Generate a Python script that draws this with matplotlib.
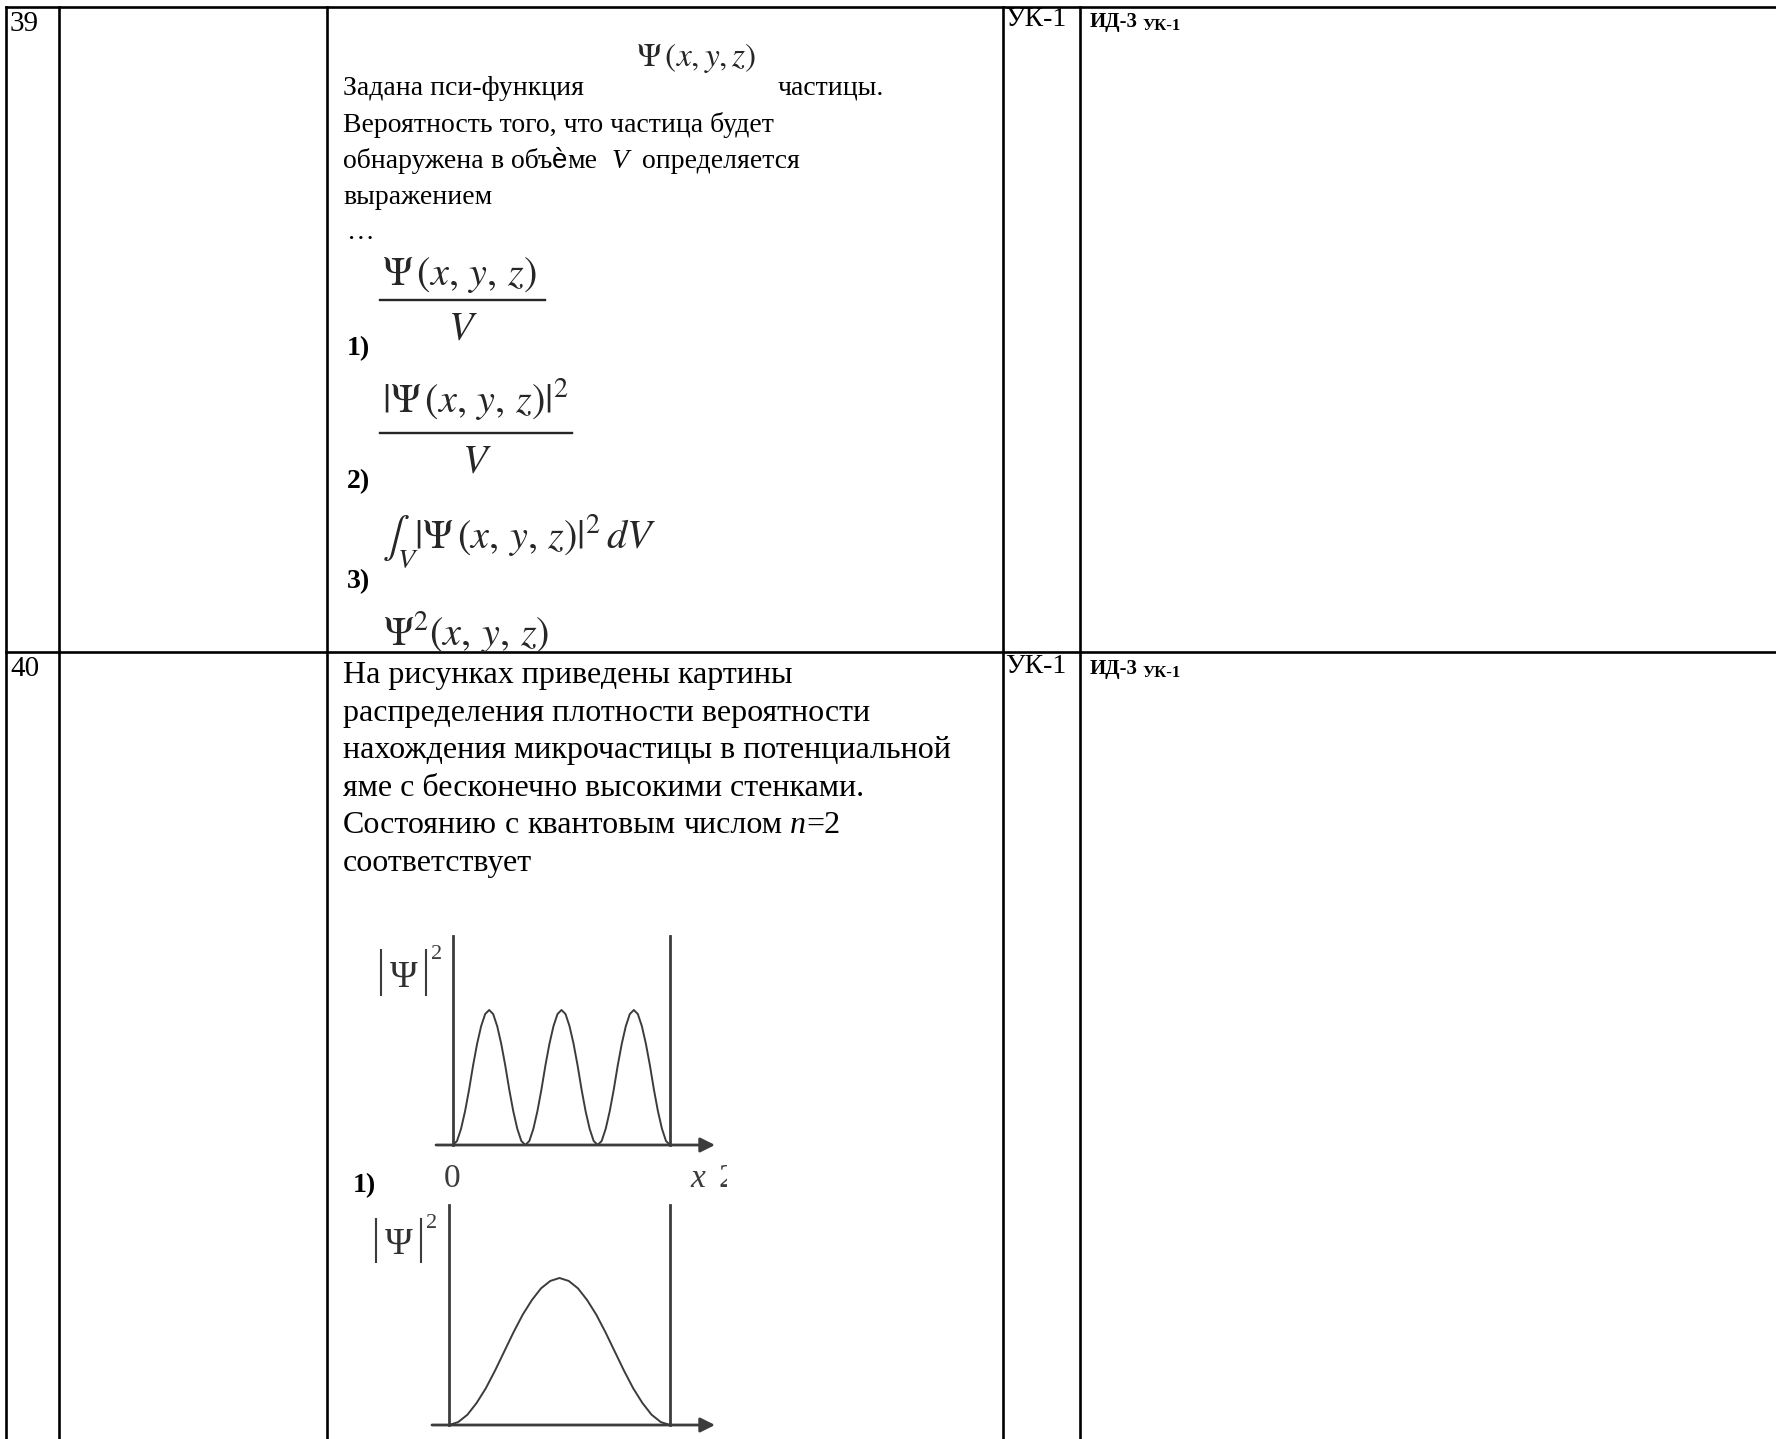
import numpy as np
import matplotlib.pyplot as plt
from matplotlib.patches import Rectangle

plt.rcParams['mathtext.fontset'] = 'stix'
plt.rcParams['font.family'] = ['Liberation Serif', 'DejaVu Serif']

W, H = 1776, 1439

# table grid (pixel positions on the page)
col_lines = [6, 59, 327, 1003, 1080]
row_lines = [7, 652]

row_numbers = ['39', '40']
number_base = [31, 676]
competence = ['УК-1', 'УК-1']
indicator = ['ИД-3', 'ИД-3']
indicator_sub = ['УК-1', 'УК-1']
code_base = [26, 673]

q39_lines = ['Вероятность того, что частица будет']
q40_lines = ['На рисунках приведены картины',
             'распределения плотности вероятности',
             'нахождения микрочастицы в потенциальной',
             'яме с бесконечно высокими стенками.']

psi_n3 = [0, .03, .12, .25, .41, .59, .75, .88, .97, 1, .97, .88, .75, .59, .41, .25, .12, .03,
          0, .03, .12, .25, .41, .59, .75, .88, .97, 1, .97, .88, .75, .59, .41, .25, .12, .03,
          0, .03, .12, .25, .41, .59, .75, .88, .97, 1, .97, .88, .75, .59, .41, .25, .12, .03, 0]
psi_n1 = [0, .02, .07, .15, .25, .37, .5, .63, .75, .85, .93, .98, 1,
          .98, .93, .85, .75, .63, .5, .37, .25, .15, .07, .02, 0]

Q39 = 20
Q40 = 23
FORM = 29
ink = '#262626'
gray = '#3c3c3c'
TX = 343

fig = plt.figure(figsize=(W / 100, H / 100), dpi=100)
page = fig.add_axes([0, 0, 1, 1])
page.set_xlim(0, W)
page.set_ylim(H, 0)
page.axis('off')
renderer = fig.canvas.get_renderer()

# grid lines
for x in col_lines:
    page.plot([x, x], [row_lines[0], H], color='black', lw=1.9)
for y in row_lines:
    page.plot([col_lines[0], W], [y, y], color='black', lw=1.9)

# numbers, competence and indicator columns
for i in range(2):
    page.text(10, number_base[i], row_numbers[i], fontsize=21, va='baseline')
    b = code_base[i]
    page.text(1005, b, competence[i], fontsize=20, va='baseline')
    t = page.text(1090, b + 1, indicator[i], fontsize=15,
                  fontweight='bold', va='baseline')
    w = t.get_window_extent(renderer).width
    page.text(1090 + w + 4, b + 4, indicator_sub[i], fontsize=12,
              fontweight='bold', va='baseline')


def run(x, y, parts, size):
    sp = 0.25 * size * 100 / 72
    for s, style in parts:
        if s == ' ':
            x += sp
            continue
        t = page.text(x, y, s, fontsize=size, va='baseline', **style)
        x += t.get_window_extent(renderer).width


# question 39
page.text(TX, 95, 'Задана пси-функция', fontsize=Q39, va='baseline')
page.text(636, 66, r'$\Psi\,(x,y,z)$', fontsize=24, color=ink, va='baseline')
page.text(778, 95, 'частицы.', fontsize=Q39, va='baseline')
page.text(TX, 132, q39_lines[0], fontsize=Q39, va='baseline')
run(TX, 168, [('обнаружена', {}), (' ', {}), ('в', {}), (' ', {}),
              ('объ', {}), ('ѐ', {'family': ['Liberation Sans', 'DejaVu Sans']}),
              ('ме', {}), (' ', {}), (' ', {}), ('V', {'style': 'italic'}),
              (' ', {}), (' ', {}), ('определяется', {})], Q39)
page.text(TX, 204, 'выражением', fontsize=Q39, va='baseline')
page.text(347, 239, '…', fontsize=Q39, va='baseline')

# answer options
opt = dict(fontsize=FORM, color=ink, va='baseline')
lab = dict(fontsize=20, fontweight='bold', va='baseline')
page.text(382, 285, r'$\Psi\,(x,\,y,\,z)$', **opt)
page.plot([380, 545], [300, 300], color=ink, lw=1.7)
page.text(448, 340, r'$V$', **opt)
page.text(347, 355, '1)', **lab)

page.text(382, 412, r'$|\Psi\,(x,\,y,\,z)|^2$', **opt)
page.plot([380, 572], [433, 433], color=ink, lw=1.7)
page.text(462, 473, r'$V$', **opt)
page.text(347, 488, '2)', **lab)

page.text(382, 548, r'$\int_V |\Psi\,(x,\,y,\,z)|^2\,dV$', **opt)
page.text(347, 588, '3)', **lab)

t4 = page.text(383, 645, r'$\Psi^2(x,\,y,\,z)$', clip_on=True, **opt)
t4.set_clip_path(Rectangle((330, 590), 400, 61, transform=page.transData))

# question 40
for k, line in enumerate(q40_lines):
    page.text(TX, 683 + k * 37.5, line, fontsize=Q40, va='baseline')
run(TX, 683 + 4 * 37.5, [('Состоянию', {}), (' ', {}), ('с', {}), (' ', {}),
                         ('квантовым', {}), (' ', {}), ('числом', {}), (' ', {}),
                         ('n', {'style': 'italic'}), ('=2', {})], Q40)
page.text(TX, 683 + 5 * 37.5, 'соответствует', fontsize=Q40, va='baseline')


def well(data, left, right, base, peak, top, start, tip):
    ax = fig.add_axes([left / W, 1 - base / H, (right - left) / W, (base - peak) / H])
    ax.set_xlim(0, 1)
    ax.set_ylim(0, 1)
    ax.axis('off')
    span = right - left
    ytop = (base - top) / (base - peak)
    ax.plot(np.linspace(0, 1, len(data)), data, color=gray, lw=1.4, clip_on=False)
    ax.plot([0, 0], [0, ytop], color=gray, lw=2.0, clip_on=False)
    ax.plot([1, 1], [0, ytop], color=gray, lw=2.0, clip_on=False)
    ax.annotate('', xy=((tip - left) / span, 0), xytext=((start - left) / span, 0),
                arrowprops=dict(arrowstyle='-|>', color=gray, lw=2.0,
                                mutation_scale=22, shrinkA=0, shrinkB=0),
                annotation_clip=False)
    return ax


def psi_label(x, top, bottom):
    # tall bars around Psi with a superscript 2
    page.plot([x, x], [top, bottom], color=gray, lw=1.5)
    page.plot([x + 45, x + 45], [top, bottom], color=gray, lw=1.5)
    page.text(x + 22.5, bottom - 8, 'Ψ', fontsize=27, color='#303030',
              ha='center', va='baseline')
    page.text(x + 50, top + 9, '2', fontsize=16, color=gray, va='baseline')


well(psi_n3, 453, 670, 1145, 1010, 936, 436, 715)
psi_label(381, 950, 995)
page.text(452, 1187, '0', fontsize=24, color=gray, ha='center', va='baseline')
page.text(690, 1187, 'x', fontsize=24, color=gray, style='italic', va='baseline')
t2 = page.text(718, 1187, '2', fontsize=24, color=gray, va='baseline', clip_on=True)
t2.set_clip_path(Rectangle((700, 1150), 27, 50, transform=page.transData))
page.text(353, 1192, '1)', **lab)

well(psi_n1, 449, 670, 1425, 1278, 1205, 432, 715)
psi_label(376, 1219, 1262)

fig.savefig('out.png', dpi=100)
